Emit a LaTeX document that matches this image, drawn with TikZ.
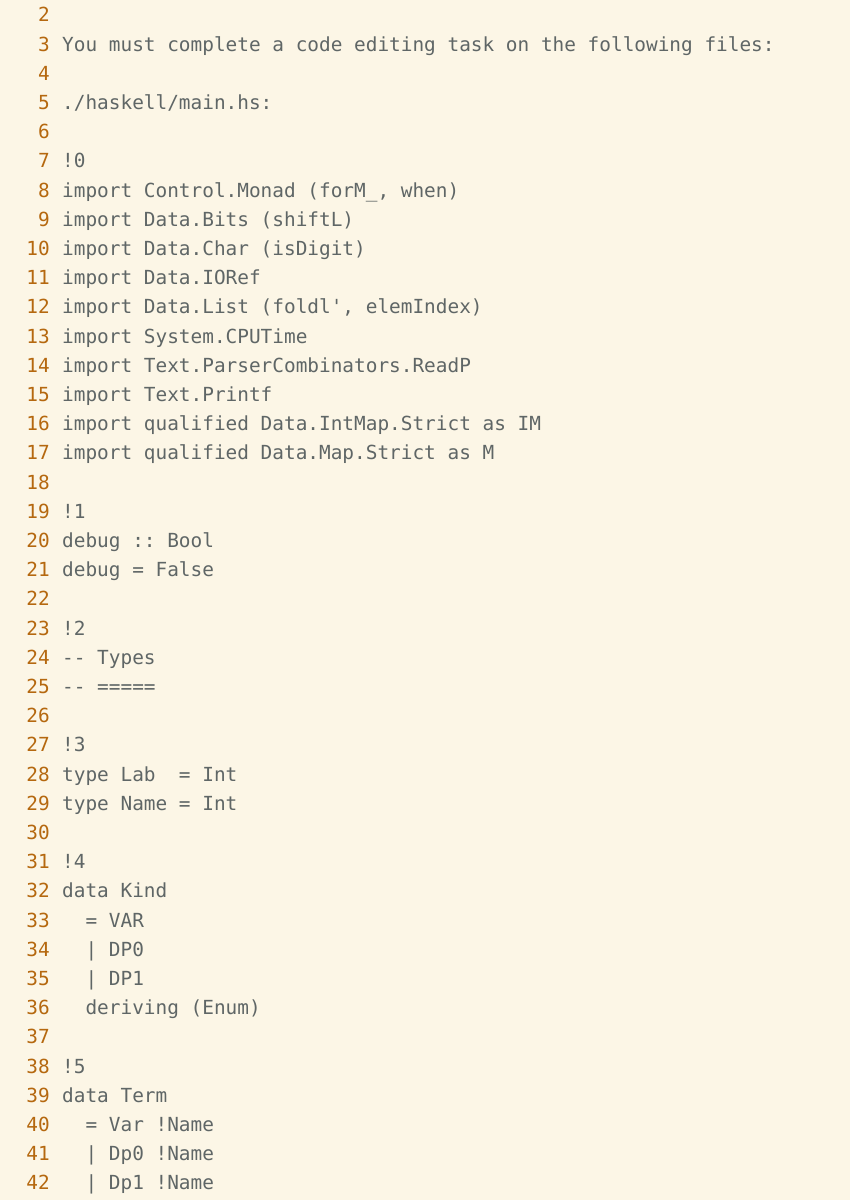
\documentclass[tikz,border=0pt]{standalone}
\usepackage{fontspec}
\setmonofont{DejaVu Sans Mono}
\definecolor{bg}{HTML}{FCF6E6}
\definecolor{num}{HTML}{B5680F}
\definecolor{txt}{HTML}{5F6666}
\begin{document}
\begin{tikzpicture}[x=1pt,y=1pt,
  numstyle/.style={anchor=base east,inner sep=0pt,text=num,font=\ttfamily\fontsize{19.4}{22}\selectfont},
  codestyle/.style={anchor=base west,inner sep=0pt,text=txt,font=\ttfamily\fontsize{19.4}{22}\selectfont}]
\fill[bg] (0,0) rectangle (850,1200);
\useasboundingbox (0,0) rectangle (850,1200);
\foreach \n/\t in {2/{},3/{You must complete a code editing task on the following files:},4/{},5/{./haskell/main.hs:},6/{},7/{!0},
8/{import Control.Monad (forM\_, when)},9/{import Data.Bits (shiftL)},10/{import Data.Char (isDigit)},11/{import Data.IORef},
12/{import Data.List (foldl', elemIndex)},13/{import System.CPUTime},14/{import Text.ParserCombinators.ReadP},15/{import Text.Printf},
16/{import qualified Data.IntMap.Strict as IM},17/{import qualified Data.Map.Strict as M},18/{},19/{!1},20/{debug :: Bool},
21/{debug = False},22/{},23/{!2},24/{-{}- Types},25/{-{}- =====},26/{},27/{!3},28/{type Lab~~= Int},29/{type Name = Int},
30/{},31/{!4},32/{data Kind},33/{~~= VAR},34/{~~| DP0},35/{~~| DP1},36/{~~deriving (Enum)},37/{},38/{!5},39/{data Term},
40/{~~= Var !Name},41/{~~| Dp0 !Name},42/{~~| Dp1 !Name}}{
  \pgfmathsetmacro\yy{1200-22-29.2*(\n-2)}
  \node[numstyle] (n\n) at (50,\yy) {\n};
  \node[codestyle] (c\n) at (62,\yy) {\t};
}
\end{tikzpicture}
\end{document}
